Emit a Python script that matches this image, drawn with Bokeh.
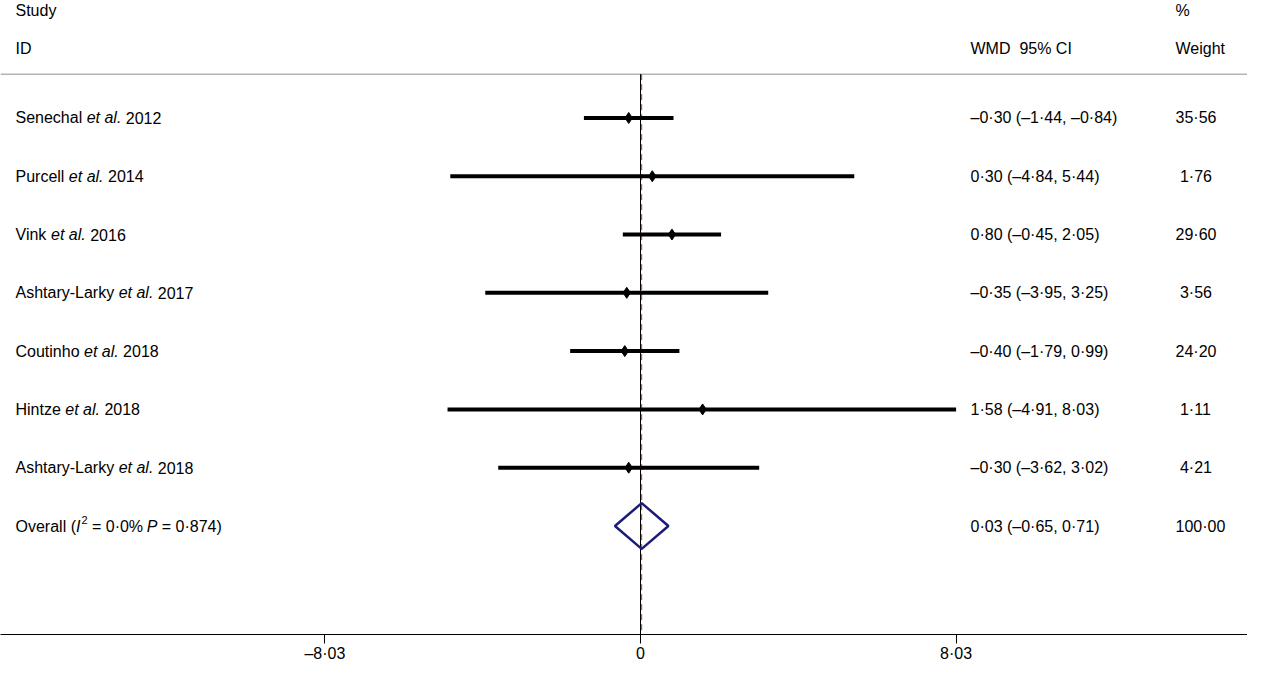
from bokeh.plotting import figure
from bokeh.models import Range1d, FixedTicker, ColumnDataSource
from bokeh.embed import file_html
from bokeh.resources import INLINE
from bokeh.core.properties import value

# ---------------- data ----------------
authors = ["Senechal", "Purcell", "Vink", "Ashtary-Larky", "Coutinho", "Hintze", "Ashtary-Larky"]
years = ["2012", "2014", "2016", "2017", "2018", "2018", "2018"]
est = [-0.30, 0.30, 0.80, -0.35, -0.40, 1.58, -0.30]
ci_lo = [-1.44, -4.84, -0.45, -3.95, -1.79, -4.91, -3.62]
ci_hi = [0.84, 5.44, 2.05, 3.25, 0.99, 8.03, 3.02]
ci_text = ["–0·30 (–1·44, –0·84)", "0·30 (–4·84, 5·44)", "0·80 (–0·45, 2·05)",
           "–0·35 (–3·95, 3·25)", "–0·40 (–1·79, 0·99)", "1·58 (–4·91, 8·03)",
           "–0·30 (–3·62, 3·02)"]
weight_text = ["35·56", "1·76", "29·60", "3·56", "24·20", "1·11", "4·21"]
overall_est = 0.03
overall_lo = -0.65
overall_hi = 0.71
overall_ci_text = "0·03 (–0·65, 0·71)"
overall_weight_text = "100·00"
het_I2 = "0·0%"
het_P = "0·874"
tick_values = [-8.03, 0.0, 8.03]
tick_labels = ["–8·03", "0", "8·03"]

# ---------------- layout helpers ----------------
FONT = "Liberation Sans"
FS = 16
W, H = 1247, 664
PX = 39.3                      # pixels per data unit
X0 = 640                       # figure x of zero
ROW0 = 118.0                   # figure y of first row
ROWH = 58.57                   # row spacing in px
FRAME_BOT = 637                # figure y of frame bottom (axis line)

def sx(px):
    return (px - X0) / PX

def sy(py):
    return (py - ROW0) / ROWH

AW = {' ': 278, '\u00a0': 278, 'a': 556, 'b': 556, 'c': 500, 'd': 556, 'e': 556, 'f': 278,
      'g': 556, 'h': 556, 'i': 222, 'j': 222, 'k': 500, 'l': 222, 'm': 833, 'n': 556,
      'o': 556, 'p': 556, 'q': 556, 'r': 333, 's': 500, 't': 278, 'u': 556, 'v': 500,
      'w': 722, 'x': 500, 'y': 500, 'z': 500, 'A': 667, 'B': 667, 'C': 722, 'D': 722,
      'E': 667, 'H': 722, 'I': 278, 'L': 556, 'O': 778, 'P': 667, 'S': 667, 'V': 667,
      'W': 944, '-': 333, '.': 278, ',': 278, '(': 333, ')': 333, '=': 584, '%': 889,
      '·': 278, '–': 556}

def tw(s, size=FS):
    return sum(AW.get(c, 556) for c in s) * size / 1000.0

n = len(authors)
rows = list(range(n))
overall_row = n

p = figure(width=W, height=H,
           x_range=Range1d(sx(0), sx(W)),
           y_range=Range1d(sy(FRAME_BOT), sy(0)),
           toolbar_location=None, output_backend="svg",
           x_axis_location="below", y_axis_location=None,
           min_border_left=0, min_border_right=0, min_border_top=0,
           min_border_bottom=H - FRAME_BOT)
p.xgrid.visible = False
p.ygrid.visible = False
p.outline_line_color = None
p.background_fill_color = "white"
p.border_fill_color = "white"

ax = p.xaxis[0]
ax.ticker = FixedTicker(ticks=tick_values)
ax.major_label_overrides = {v: l for v, l in zip(tick_values, tick_labels)}
ax.minor_tick_line_color = None
ax.major_tick_in = 0
ax.major_tick_out = 9
ax.major_label_standoff = 1
ax.axis_line_color = "black"
ax.major_tick_line_color = "black"
ax.major_label_text_font = FONT
ax.major_label_text_font_size = "16px"
ax.major_label_text_color = "black"

# header separator
hdr_y = sy(74)
p.segment(x0=[sx(0)], y0=[hdr_y], x1=[sx(W)], y1=[hdr_y], line_color="#b4b4b4", line_width=1.5)

# reference lines
p.segment(x0=[0.0], y0=[hdr_y], x1=[0.0], y1=[sy(FRAME_BOT)], line_color="black", line_width=1)
p.segment(x0=[overall_est], y0=[hdr_y], x1=[overall_est], y1=[sy(FRAME_BOT)],
          line_color="#b03a3a", line_width=1, line_dash="6 4")

# CI lines and point estimates
src = ColumnDataSource(dict(y=rows, est=est, lo=ci_lo, hi=ci_hi))
p.segment(x0="lo", y0="y", x1="hi", y1="y", source=src, line_color="black", line_width=4)
p.scatter(x="est", y="y", source=src, marker="diamond", size=11, fill_color="black", line_color="black")

# overall diamond
dh = 23 / ROWH
p.patch(x=[overall_lo, overall_est, overall_hi, overall_est, overall_lo],
        y=[overall_row, overall_row - dh, overall_row, overall_row + dh, overall_row],
        fill_color=None, line_color="#1c1c78", line_width=2.5)

# ---------------- texts ----------------
normal = dict(x=[], y=[], text=[], xo=[], yo=[], size=[])
italic = dict(x=[], y=[], text=[], xo=[], yo=[], size=[])

def put(d, x, y, t, xo=0.0, yo=0.0, size=FS):
    d["x"].append(x); d["y"].append(y); d["text"].append(t)
    d["xo"].append(xo); d["yo"].append(yo); d["size"].append(f"{size}px")

xl = sx(15)
xc = sx(970)
xw = sx(1175)

# headers
put(normal, xl, sy(10), "Study")
put(normal, xl, sy(48), "ID")
put(normal, xc, sy(48), "WMD\u00a0 95% CI")
put(normal, xw, sy(10), "%")
put(normal, xw, sy(48), "Weight")

for i in rows:
    a = authors[i] + " "
    put(normal, xl, i, authors[i])
    put(italic, xl, i, "et al.", tw(a))
    put(normal, xl, i, years[i], tw(a) + tw("et al. "))
    put(normal, xc, i, ci_text[i])
    pad = tw(" ") if len(weight_text[i]) < 5 else 0.0
    put(normal, xw, i, weight_text[i], pad)

# overall row
o = overall_row
off = 0.0
put(normal, xl, o, "Overall (", off); off += tw("Overall (")
put(italic, xl, o, "I", off); off += tw("I") + 1
put(normal, xl, o, "2", off, -6, 11); off += tw("2", 11) + tw(" ")
seg = "= " + het_I2
put(normal, xl, o, seg, off); off += tw(seg + " ")
put(italic, xl, o, "P", off); off += tw("P ")
put(normal, xl, o, "= " + het_P + ")", off)
put(normal, xc, o, overall_ci_text)
put(normal, xw, o, overall_weight_text)

for d, style in ((normal, "normal"), (italic, "italic")):
    s = ColumnDataSource(d)
    p.text(x="x", y="y", text="text", x_offset="xo", y_offset="yo", source=s,
           text_font=value(FONT), text_font_size="size", text_font_style=style,
           text_baseline="middle", text_align="left", text_color="black")

open("out.html", "w").write(file_html(p, INLINE))
